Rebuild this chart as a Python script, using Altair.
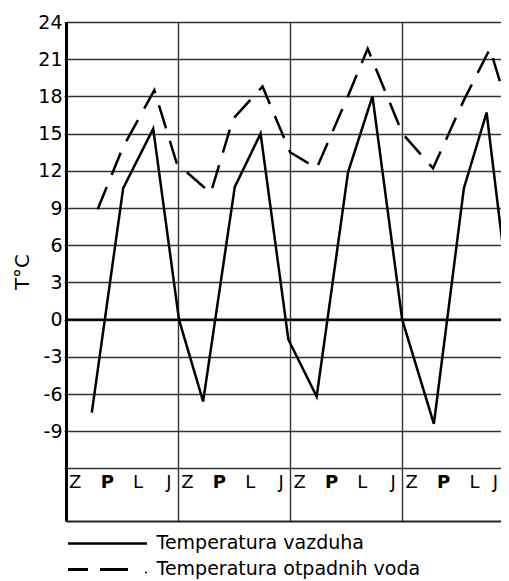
import altair as alt
import pandas as pd

# --- data ---
# x positions in "season" units (4 seasons per year, year boundaries at 4, 8, 12)
air_x = [0.92, 2.04, 3.11, 4.03, 4.89, 6.02, 6.94, 7.93, 8.94, 10.06, 10.93, 11.99, 13.12, 14.19, 15.0, 16.0]
air_v = [-7.5, 10.6, 15.4, 0.0, -6.6, 10.7, 15.0, -1.6, -6.2, 11.9, 18.0, 0.0, -8.4, 10.6, 16.7, -2.0]

water_x = [1.13, 2.03, 3.15, 3.95, 5.16, 5.96, 7.01, 7.99, 8.94, 10.05, 10.76, 12.0, 13.09, 14.19, 15.12, 16.0]
water_v = [8.9, 13.9, 18.5, 12.6, 10.2, 16.2, 18.8, 13.5, 12.2, 18.0, 21.85, 15.0, 12.2, 17.7, 21.85, 15.3]

season_letters = ["Z", "P", "L", "J"]
letter_offsets = [0.33, 1.47, 2.57, 3.67]
n_years = 4
year_bounds = [4, 8, 12]
y_ticks = list(range(-12, 25, 3))

legend_air = "Temperatura vazduha"
legend_water = "Temperatura otpadnih voda"
y_title = "T°C"

FONT = "DejaVu Sans"

air_df = pd.DataFrame({"x": air_x, "v": air_v})
water_df = pd.DataFrame({"x": water_x, "v": water_v})

PLOT_W = 435
X_MAX = PLOT_W / 28.04  # visible part of the season axis

letters = []
for yr in range(n_years):
    for s, off in zip(season_letters, letter_offsets):
        # keep the last letter inside the visible part of the plot
        letters.append({"x": min(off + 4 * yr, X_MAX - 0.2), "letter": s})
letters_df = pd.DataFrame(letters)

xscale = alt.Scale(domain=[0, X_MAX], nice=False, zero=False)
yscale = alt.Scale(domain=[-16.24, 24], nice=False, zero=False)

x_enc = alt.X(
    "x:Q",
    scale=xscale,
    axis=alt.Axis(
        values=year_bounds, grid=True, labels=False, ticks=False, title=None,
        domain=True, domainColor="#222", domainWidth=2,
        gridColor="#333", gridWidth=1.4, gridOpacity=1,
    ),
)
y_enc = alt.Y(
    "v:Q",
    scale=yscale,
    axis=alt.Axis(
        values=y_ticks,
        labelExpr="datum.value == -12 ? '' : toString(datum.value)",
        grid=True, gridColor="#333", gridWidth=1.4, gridOpacity=1,
        domain=True, domainColor="black", domainWidth=3,
        ticks=True, tickSize=2, tickColor="#333",
        labelFont=FONT, labelFontSize=19, labelColor="black", labelPadding=2,
        title=y_title, titleFont=FONT, titleFontSize=20, titleFontWeight="normal",
        titleColor="black", titleAngle=270, titleAlign="center", titleBaseline="middle",
        titleX=-44, titleY=249.5,
    ),
)

air_line = alt.Chart(air_df).mark_line(
    color="black", strokeWidth=2.5, clip=True, strokeJoin="miter"
).encode(x=x_enc, y=y_enc)

water_line = alt.Chart(water_df).mark_line(
    color="black", strokeWidth=2.5, clip=True, strokeDash=[24, 13], strokeCap="butt"
).encode(x="x:Q", y="v:Q")

zero_rule = alt.Chart(pd.DataFrame({"v": [0]})).mark_rule(
    color="black", strokeWidth=2.2
).encode(y="v:Q")

letters_normal = alt.Chart(letters_df[letters_df["letter"] != "P"]).mark_text(
    font=FONT, fontSize=18, baseline="alphabetic", align="center", color="black"
).encode(x="x:Q", y=alt.value(466), text="letter:N")

letters_bold = alt.Chart(letters_df[letters_df["letter"] == "P"]).mark_text(
    font=FONT, fontSize=18, fontWeight="bold", baseline="alphabetic", align="center", color="black"
).encode(x="x:Q", y=alt.value(466), text="letter:N")

one = pd.DataFrame({"a": [0]})
leg_solid = alt.Chart(one).mark_rule(color="black", strokeWidth=2.5).encode(
    x=alt.value(2), x2=alt.value(81), y=alt.value(521.5))
leg_d1 = alt.Chart(one).mark_rule(color="black", strokeWidth=3).encode(
    x=alt.value(2), x2=alt.value(22), y=alt.value(547.5))
leg_d2 = alt.Chart(one).mark_rule(color="black", strokeWidth=3).encode(
    x=alt.value(34), x2=alt.value(62), y=alt.value(547.5))
leg_dot = alt.Chart(one).mark_rule(color="black", strokeWidth=1.6).encode(
    x=alt.value(79), x2=alt.value(81), y=alt.value(550.5))
leg_t1 = alt.Chart(one).mark_text(
    font=FONT, fontSize=19, align="left", baseline="alphabetic", color="black"
).encode(x=alt.value(90.5), y=alt.value(527), text=alt.value(legend_air))
leg_t2 = alt.Chart(one).mark_text(
    font=FONT, fontSize=19, align="left", baseline="alphabetic", color="black"
).encode(x=alt.value(90.5), y=alt.value(552.5), text=alt.value(legend_water))

chart = alt.layer(
    air_line, water_line, zero_rule, letters_normal, letters_bold,
    leg_solid, leg_d1, leg_d2, leg_dot, leg_t1, leg_t2,
).properties(
    width=PLOT_W, height=499,
    autosize=alt.AutoSizeParams(type="none"),
    padding={"left": 58, "top": 14, "right": 0, "bottom": 60},
).configure_view(stroke=None).configure(background="white")

chart.save("out.html", embed_options={"renderer": "svg", "actions": False})
